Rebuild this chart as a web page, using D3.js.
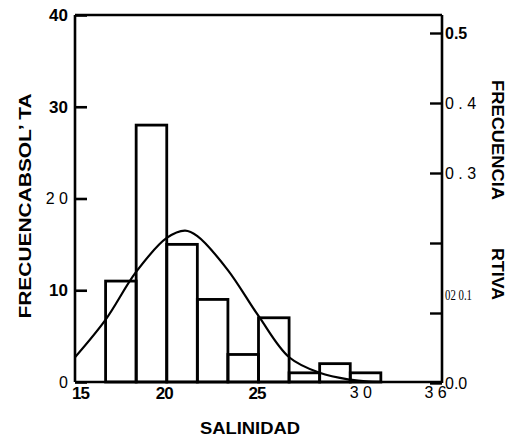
<!DOCTYPE html>
<html><head><meta charset="utf-8">
<script src="https://cdn.jsdelivr.net/npm/d3@7/dist/d3.min.js"></script>
<style>
body{margin:0;background:#fff;}
svg{display:block;}
text{font-family:"Liberation Sans",Arial,sans-serif;fill:#000;}
</style></head>
<body><svg id="c" width="515" height="440"></svg>
<script>
// ---- data ----
const binStarts = [16.667, 18.333, 20, 21.667, 23.333, 25, 26.667, 28.333, 30];
const binEnds   = [18.333, 20, 21.667, 23.333, 25, 26.667, 28.333, 30, 31.667];
const counts    = [11, 28, 15, 9, 3, 7, 1, 2, 1];
const curveX = [15, 16.67, 18.33, 20, 21, 21.67, 23.33, 25, 26.67, 28.33, 30, 31, 32];
const curveY = [2.7, 6.8, 12.0, 15.7, 16.5, 15.9, 12.2, 7.2, 2.7, 1.0, 0.25, 0.05, 0];
const xTicks = [15, 20, 25, 30, 35];
const xTickLabels = ["15", "20", "25", "3 0", "3 6"];
const leftTicks = [0, 10, 20, 30, 40];
const leftTickLabels = ["0", "10", "2 0", "30", "40"];
const rightTicks = [0, 0.1, 0.2, 0.3, 0.4, 0.5];
const rightTickLabels = ["0.0", "", "", "0 . 3", "0 . 4", "0.5"];
const strayLabel = "02 0.1";
const strayValue = 0.125;
const xTitle = "SALINIDAD";
const leftTitle = "FRECUENCABSOL’ TA";
const rightTitle1 = "FRECUENCIA";
const rightTitle2 = "RTIVA";

// ---- layout ----
const L = 75, R = 442, T = 15, B = 382;
const svg = d3.select("#c");
const x = d3.scaleLinear().domain([15, 35]).range([L, R]);
const yL = d3.scaleLinear().domain([0, 40]).range([B, T]);
const yR = d3.scaleLinear().domain([0, 0.5]).range([B + 1, 33]);

// bars
svg.append("g").selectAll("rect").data(counts).join("rect")
  .attr("x", (d, i) => x(binStarts[i]))
  .attr("y", d => yL(d))
  .attr("width", (d, i) => x(binEnds[i]) - x(binStarts[i]))
  .attr("height", d => yL(0) - yL(d))
  .attr("fill", "none").attr("stroke", "#000").attr("stroke-width", 2.8);

// curve
const pts = curveX.map((v, i) => [v, curveY[i]]);
svg.append("path").datum(pts)
  .attr("d", d3.line().x(d => x(d[0])).y(d => yL(d[1])).curve(d3.curveCatmullRom))
  .attr("fill", "none").attr("stroke", "#000").attr("stroke-width", 2.2);

// frame top
svg.append("line").attr("x1", L).attr("x2", R).attr("y1", T).attr("y2", T)
  .attr("stroke", "#000").attr("stroke-width", 2.4);

// left axis
const boldLeft = new Set(["10", "30", "40"]);
const gl = svg.append("g").attr("transform", `translate(${L},0)`)
  .call(d3.axisLeft(yL).tickValues(leftTicks)
    .tickFormat((d, i) => leftTickLabels[i]).tickSizeInner(-12).tickSizeOuter(0).tickPadding(7));
gl.select(".domain").attr("stroke-width", 2.6).attr("d", `M0,${T}V${B}`);
gl.selectAll(".tick line").attr("stroke-width", 2.6);
gl.selectAll(".tick text")
  .style("font-size", d => boldLeft.has(leftTickLabels[leftTicks.indexOf(d)]) ? "17px" : "16px")
  .style("font-weight", d => boldLeft.has(leftTickLabels[leftTicks.indexOf(d)]) ? "bold" : "normal");

// bottom axis
const boldX = new Set(["15", "20", "25"]);
const gb = svg.append("g").attr("transform", `translate(0,${B})`)
  .call(d3.axisBottom(x).tickValues(xTicks)
    .tickFormat((d, i) => xTickLabels[i]).tickSize(0).tickPadding(5));
gb.select(".domain").attr("stroke-width", 2.6).attr("d", `M${L},0H${R}`);
gb.selectAll(".tick text")
  .style("font-size", d => boldX.has(xTickLabels[xTicks.indexOf(d)]) ? "17px" : "16px")
  .style("font-weight", d => boldX.has(xTickLabels[xTicks.indexOf(d)]) ? "bold" : "normal")
  .style("letter-spacing", d => boldX.has(xTickLabels[xTicks.indexOf(d)]) ? "-1px" : "0px")
  .attr("dx", (d, i) => [5, -3, -2, 10, -7][i]);

// right axis
const gr = svg.append("g").attr("transform", `translate(${R},0)`)
  .call(d3.axisRight(yR).tickValues(rightTicks)
    .tickFormat((d, i) => rightTickLabels[i]).tickSizeInner(-12).tickSizeOuter(0).tickPadding(3));
gr.select(".domain").attr("stroke-width", 2.6).attr("d", `M0,${T}V${B + 1}`);
gr.selectAll(".tick line").attr("stroke-width", 2.4);
gr.selectAll(".tick text").style("font-size", "16px")
  .style("font-weight", (d, i) => i === 5 ? "bold" : "normal");
gr.append("text").attr("x", 3).attr("y", yR(strayValue)).attr("dy", "0.32em")
  .style("font-family", "'Liberation Serif',serif").style("font-size", "14px")
  .attr("textLength", 27).attr("lengthAdjust", "spacingAndGlyphs").text(strayLabel);

// titles
svg.append("text").attr("x", 250).attr("y", 434).attr("text-anchor", "middle")
  .style("font-size", "16px").style("font-weight", "bold")
  .attr("textLength", 100).attr("lengthAdjust", "spacingAndGlyphs").text(xTitle);
svg.append("text").attr("transform", "translate(31,206) rotate(-90)").attr("text-anchor", "middle")
  .style("font-size", "16px").style("font-weight", "bold")
  .attr("textLength", 225).attr("lengthAdjust", "spacingAndGlyphs").text(leftTitle);
svg.append("text").attr("transform", "translate(492,140) rotate(90)").attr("text-anchor", "middle")
  .style("font-size", "16px").style("font-weight", "bold")
  .attr("textLength", 120).attr("lengthAdjust", "spacingAndGlyphs").text(rightTitle1);
svg.append("text").attr("transform", "translate(492,274) rotate(90)").attr("text-anchor", "middle")
  .style("font-size", "16px").style("font-weight", "bold")
  .attr("textLength", 52).attr("lengthAdjust", "spacingAndGlyphs").text(rightTitle2);
</script></body></html>
